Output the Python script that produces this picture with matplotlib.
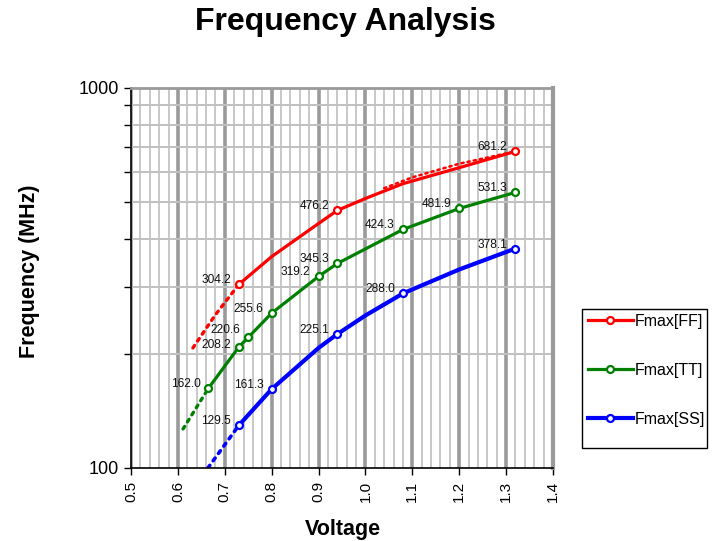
import matplotlib
matplotlib.use("Agg")
import matplotlib.pyplot as plt
from matplotlib.patches import Rectangle
from matplotlib.ticker import FixedLocator, NullFormatter, FixedFormatter
import numpy as np

plt.rcParams['font.family'] = ['Liberation Sans', 'DejaVu Sans']

# ---- data ----
volt_ff = [0.73, 0.80, 0.90, 0.94, 1.00, 1.08, 1.20, 1.32]
fmax_ff = [304.2, 360.0, 440.0, 476.2, 512.0, 560.0, 617.0, 681.2]
labels_ff = ["304.2", None, None, "476.2", None, None, None, "681.2"]

volt_tt = [0.665, 0.73, 0.75, 0.80, 0.90, 0.94, 1.08, 1.20, 1.32]
fmax_tt = [162.0, 208.2, 220.6, 255.6, 319.2, 345.3, 424.3, 481.9, 531.3]
labels_tt = ["162.0", "208.2", "220.6", "255.6", "319.2", "345.3", "424.3", "481.9", "531.3"]

volt_ss = [0.73, 0.80, 0.90, 0.94, 1.00, 1.08, 1.20, 1.32]
fmax_ss = [129.5, 161.3, 207.0, 225.1, 252.0, 288.0, 333.0, 378.1]
labels_ss = ["129.5", "161.3", None, "225.1", None, "288.0", None, "378.1"]

# dotted trend extensions
trend_ff_lo_v = [0.632, 0.68, 0.73]
trend_ff_lo_f = [207.0, 253.0, 304.2]
trend_ff_hi_v = [1.04, 1.10, 1.20, 1.32]
trend_ff_hi_f = [545.0, 582.0, 632.0, 681.2]
trend_tt_v = [0.611, 0.665]
trend_tt_f = [126.7, 162.0]
trend_ss_v = [0.664, 0.73]
trend_ss_f = [100.0, 129.5]

series_names = ["Fmax[FF]", "Fmax[TT]", "Fmax[SS]"]
colors = ["#FF0000", "#008000", "#0000FF"]

xticks = [0.5, 0.6, 0.7, 0.8, 0.9, 1.0, 1.1, 1.2, 1.3, 1.4]
xtick_labels = ["0.5", "0.6", "0.7", "0.8", "0.9", "1.0", "1.1", "1.2", "1.3", "1.4"]

# ---- figure ----
W, H = 713, 541
fig = plt.figure(figsize=(W / 100, H / 100), dpi=100)
ax = fig.add_axes([131 / W, 1 - 468 / H, (553 - 131) / W, (468 - 88) / H])
ax.set_yscale('log')
ax.set_xlim(0.5, 1.4)
ax.set_ylim(100, 1000)

# grid
ax.set_xticks(xticks)
ax.set_xticklabels(xtick_labels, rotation=90, fontsize=11)
ax.xaxis.set_minor_locator(FixedLocator(np.arange(0.5, 1.4001, 0.02)))
ax.yaxis.set_major_locator(FixedLocator([100, 1000]))
ax.yaxis.set_major_formatter(FixedFormatter(["100", "1000"]))
ax.yaxis.set_minor_locator(FixedLocator([200, 300, 400, 500, 600, 700, 800, 900]))
ax.yaxis.set_minor_formatter(NullFormatter())
ax.tick_params(axis='y', which='major', labelsize=13, length=5, width=1, direction='out', color='black')
ax.tick_params(axis='y', which='minor', length=5, width=1, direction='out', color='black')
ax.tick_params(axis='x', which='major', length=5, width=1, direction='out', color='black', pad=4)
ax.tick_params(axis='x', which='minor', length=0)

ax.grid(True, axis='x', which='minor', color='#c8c8c8', lw=1.4, zorder=0)
ax.grid(True, axis='x', which='major', color='#9a9a9a', lw=2.6, zorder=0)
ax.grid(True, axis='y', which='minor', color='#c0c0c0', lw=1.4, zorder=0)
ax.set_axisbelow(True)

for s in ['left', 'bottom']:
    ax.spines[s].set_color('black')
    ax.spines[s].set_linewidth(1.2)
ax.spines['top'].set_color('#9a9a9a')
ax.spines['top'].set_linewidth(2.0)
ax.spines['right'].set_color('#9a9a9a')
ax.spines['right'].set_linewidth(3.0)

# dotted trend lines
dot = (0, (0.9, 1.6))
ax.plot(trend_ff_lo_v, trend_ff_lo_f, color=colors[0], lw=2.4, ls=dot, dash_capstyle='round', zorder=2)
ax.plot(trend_ff_hi_v, trend_ff_hi_f, color=colors[0], lw=1.8, ls=dot, dash_capstyle='round', zorder=2)
ax.plot(trend_tt_v, trend_tt_f, color=colors[1], lw=2.4, ls=dot, dash_capstyle='round', zorder=2)
ax.plot(trend_ss_v, trend_ss_f, color=colors[2], lw=2.6, ls=dot, dash_capstyle='round', zorder=2)

# main series
data = [(volt_ff, fmax_ff, labels_ff, 2.3), (volt_tt, fmax_tt, labels_tt, 2.3), (volt_ss, fmax_ss, labels_ss, 3.0)]
label_dy = {"220.6": 7, "208.2": 2}
handles = []
for (v, f, lab, lw), c, name in zip(data, colors, series_names):
    marks = [i for i, l in enumerate(lab) if l is not None]
    h, = ax.plot(v, f, color=c, lw=lw, marker='o', markersize=5, markerfacecolor='white',
                 markeredgecolor=c, markeredgewidth=1.6, markevery=marks, label=name, zorder=3,
                 solid_joinstyle='round')
    handles.append(h)
    for xi, yi, l in zip(v, f, lab):
        if l is None:
            continue
        ax.annotate(l, (xi, yi), xytext=(-8, label_dy.get(l, 4)), textcoords='offset pixels',
                    ha='right', va='center', fontsize=8.6, color='#111111', zorder=4)

# labels
fig.text(345 / W, 1 - 22 / H, "Frequency Analysis", ha='center', va='center',
         fontsize=23, fontweight='bold')
fig.text(30 / W, 1 - 271 / H, "Frequency (MHz)", ha='center', va='center',
         rotation=90, fontsize=15.5, fontweight='bold')
fig.text(343 / W, 1 - 529 / H, "Voltage", ha='center', va='center',
         fontsize=15.5, fontweight='bold')

# legend
fig.patches.append(Rectangle((582 / W, 1 - 448 / H), (707 - 582) / W, (448 - 309) / H,
                             transform=fig.transFigure, fill=False, edgecolor='black', lw=1.0))
leg = fig.legend(handles=handles, loc='upper left', bbox_to_anchor=(583 / W, 1 - 309 / H),
                 frameon=False, fontsize=11.5, handlelength=2.8, handletextpad=0.15,
                 labelspacing=2.12, borderpad=0.3, borderaxespad=0)

fig.savefig("out.png", dpi=100, facecolor='white')
